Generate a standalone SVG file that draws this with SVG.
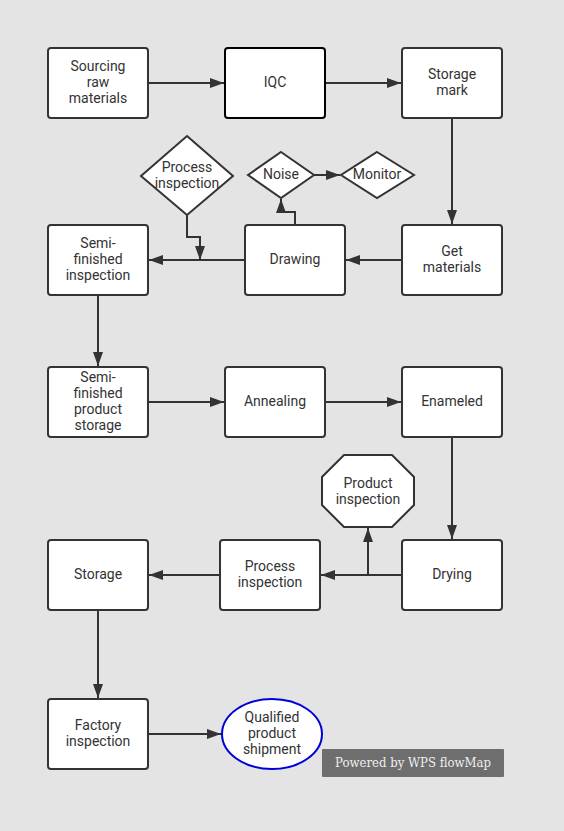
<svg xmlns="http://www.w3.org/2000/svg" width="564" height="831" viewBox="0 0 564 831">
<style>
.n{fill:#fff;stroke:#333;stroke-width:2}
.t{font-family:Roboto,"Liberation Sans",sans-serif;font-size:14px;fill:#333;text-anchor:middle;dominant-baseline:central}
.c{fill:none;stroke:#333;stroke-width:2}
</style>
<defs>
<marker id="a" viewBox="0 0 14 10" refX="14" refY="5" markerWidth="14" markerHeight="10" markerUnits="userSpaceOnUse" orient="auto">
<path d="M0,0 L14,5 L0,10 Z" fill="#333"/>
</marker>
</defs>
<rect width="564" height="831" fill="#e4e4e4"/>
<g id="connectors">
<path class="c" d="M148,83 H224" marker-end="url(#a)"/>
<path class="c" d="M325,83 H401" marker-end="url(#a)"/>
<path class="c" d="M452,118 V224" marker-end="url(#a)"/>
<path class="c" d="M402,260 H346" marker-end="url(#a)"/>
<path class="c" d="M245,260 H149" marker-end="url(#a)"/>
<path class="c" d="M187,215 V237 H200 V260" marker-end="url(#a)"/>
<path class="c" d="M295,225 V212 H281 V199" marker-end="url(#a)"/>
<path class="c" d="M314,175 H340" marker-end="url(#a)"/>
<path class="c" d="M98,295 V366" marker-end="url(#a)"/>
<path class="c" d="M148,402 H224" marker-end="url(#a)"/>
<path class="c" d="M325,402 H401" marker-end="url(#a)"/>
<path class="c" d="M452,437 V539" marker-end="url(#a)"/>
<path class="c" d="M402,575 H321" marker-end="url(#a)"/>
<path class="c" d="M368,575 V528" marker-end="url(#a)"/>
<path class="c" d="M220,575 H149" marker-end="url(#a)"/>
<path class="c" d="M98,610 V698" marker-end="url(#a)"/>
<path class="c" d="M148,734 H221" marker-end="url(#a)"/>
</g>
<g id="sourcing"><rect class="n" x="48" y="48" width="100" height="70" rx="3"/><text class="t" x="98" y="66">Sourcing</text><text class="t" x="98" y="82">raw</text><text class="t" x="98" y="98">materials</text></g>
<g id="iqc"><rect class="n" x="225" y="48" width="100" height="70" rx="3" style="stroke:#000"/><text class="t" x="275" y="82">IQC</text></g>
<g id="storagemark"><rect class="n" x="402" y="48" width="100" height="70" rx="3"/><text class="t" x="452" y="74">Storage</text><text class="t" x="452" y="90">mark</text></g>
<g id="getmaterials"><rect class="n" x="402" y="225" width="100" height="70" rx="3"/><text class="t" x="452" y="251">Get</text><text class="t" x="452" y="267">materials</text></g>
<g id="drawing"><rect class="n" x="245" y="225" width="100" height="70" rx="3"/><text class="t" x="295" y="259">Drawing</text></g>
<g id="semiinsp"><rect class="n" x="48" y="225" width="100" height="70" rx="3"/><text class="t" x="98" y="243">Semi-</text><text class="t" x="98" y="259">finished</text><text class="t" x="98" y="275">inspection</text></g>
<g id="procinsp1"><polygon class="n" points="187,136 233,176 187,215 141,176"/><text class="t" x="187" y="167">Process</text><text class="t" x="187" y="183">inspection</text></g>
<g id="noise"><polygon class="n" points="281,152 314,175 281,198 248,175"/><text class="t" x="281" y="174">Noise</text></g>
<g id="monitor"><polygon class="n" points="377,152 414,175 377,198 341,175"/><text class="t" x="377" y="174">Monitor</text></g>
<g id="semistorage"><rect class="n" x="48" y="367" width="100" height="70" rx="3"/><text class="t" x="98" y="377">Semi-</text><text class="t" x="98" y="393">finished</text><text class="t" x="98" y="409">product</text><text class="t" x="98" y="425">storage</text></g>
<g id="annealing"><rect class="n" x="225" y="367" width="100" height="70" rx="3"/><text class="t" x="275" y="401">Annealing</text></g>
<g id="enameled"><rect class="n" x="402" y="367" width="100" height="70" rx="3"/><text class="t" x="452" y="401">Enameled</text></g>
<g id="prodinsp"><polygon class="n" points="344,455 392,455 414,477 414,505 392,527 344,527 322,505 322,477"/><text class="t" x="368" y="483">Product</text><text class="t" x="368" y="499">inspection</text></g>
<g id="drying"><rect class="n" x="402" y="540" width="100" height="70" rx="3"/><text class="t" x="452" y="574">Drying</text></g>
<g id="procinsp2"><rect class="n" x="220" y="540" width="100" height="70" rx="3"/><text class="t" x="270" y="566">Process</text><text class="t" x="270" y="582">inspection</text></g>
<g id="storage"><rect class="n" x="48" y="540" width="100" height="70" rx="3"/><text class="t" x="98" y="574">Storage</text></g>
<g id="factory"><rect class="n" x="48" y="699" width="100" height="70" rx="3"/><text class="t" x="98" y="725">Factory</text><text class="t" x="98" y="741">inspection</text></g>
<g id="shipment"><ellipse cx="272" cy="734" rx="50" ry="35" fill="#fff" stroke="#0000dd" stroke-width="2"/><text class="t" x="272" y="717">Qualified</text><text class="t" x="272" y="733">product</text><text class="t" x="272" y="749">shipment</text></g>
<g id="watermark"><rect x="322" y="749" width="182" height="28" rx="1" fill="#6e6e6e"/><text x="335" y="763" font-family="'DejaVu Serif',serif" font-size="12" fill="#eee" textLength="156" lengthAdjust="spacingAndGlyphs" dominant-baseline="central">Powered by WPS flowMap</text></g>
</svg>
